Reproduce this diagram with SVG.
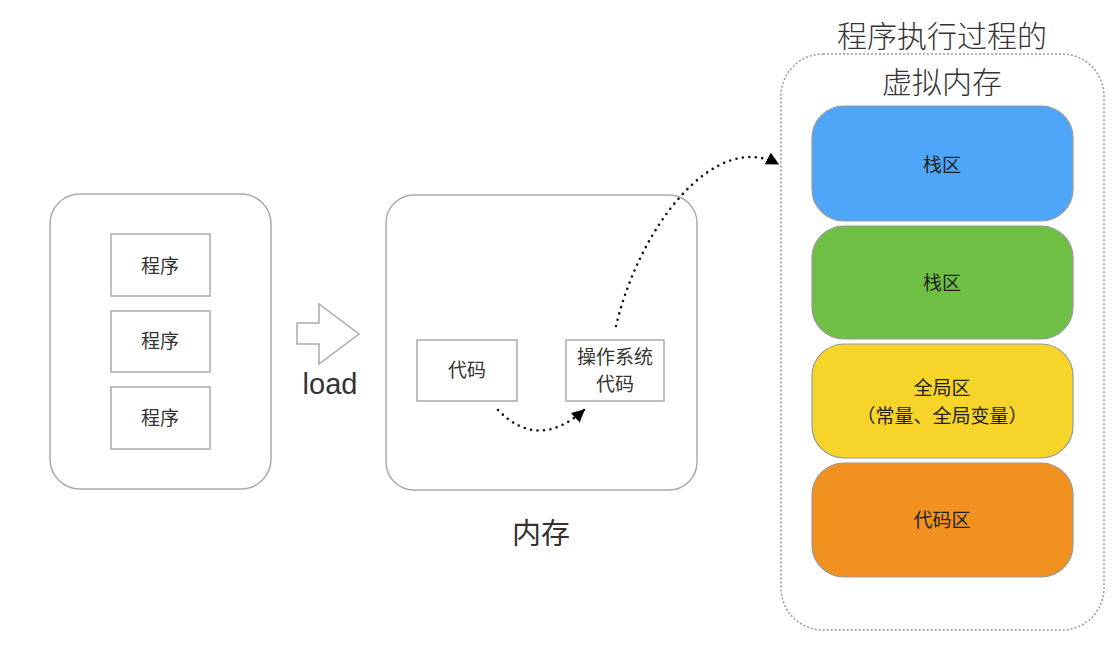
<svg xmlns="http://www.w3.org/2000/svg" width="1114" height="651" viewBox="0 0 1114 651">
<defs>
<style>
.cjk{font-family:"Noto Sans CJK SC","Noto Sans",sans-serif;fill:#333;text-anchor:middle}
.box{fill:#fff;stroke:#aaa;stroke-width:1.5}
.cont{fill:#fff;stroke:#aaa;stroke-width:1.5}
.seg{stroke:#999;stroke-width:1.2}
.dot{fill:none;stroke:#111;stroke-width:2.6;stroke-linecap:round;stroke-dasharray:0 6.5}
</style>
<marker id="ah" viewBox="0 0 10 10" refX="9" refY="5" markerWidth="13" markerHeight="13" markerUnits="userSpaceOnUse" orient="auto">
<path d="M0,0 L10,5 L0,10 Z" fill="#000"/>
</marker>
</defs>
<rect width="1114" height="651" fill="#fff"/>

<g id="programs">
<rect class="cont" x="50" y="194" width="221" height="295" rx="30"/>
<g id="prog1"><rect class="box" x="111" y="234" width="99" height="62"/><text class="cjk" x="160" y="273" font-size="19">程序</text></g>
<g id="prog2"><rect class="box" x="111" y="311" width="99" height="61"/><text class="cjk" x="160" y="348" font-size="19">程序</text></g>
<g id="prog3"><rect class="box" x="111" y="387" width="99" height="62"/><text class="cjk" x="160" y="425" font-size="19">程序</text></g>
</g>

<g id="load-arrow">
<polygon points="297,323 319,323 319,304 359,334 319,364 319,344 297,344" fill="#fff" stroke="#aaa" stroke-width="1.5"/>
<text x="330" y="394" font-family="Liberation Sans, Arial, sans-serif" font-size="29" fill="#333" text-anchor="middle">load</text>
</g>

<g id="memory">
<rect class="cont" x="386" y="195" width="311" height="295" rx="28"/>
<text class="cjk" x="541" y="544" font-size="29">内存</text>
</g>
<g id="code"><rect class="box" x="417" y="340" width="100" height="61"/><text class="cjk" x="467" y="377" font-size="19">代码</text></g>
<g id="oscode"><rect class="box" x="566" y="340" width="98" height="61"/><text class="cjk" x="615" y="364" font-size="19">操作系统</text><text class="cjk" x="615" y="391" font-size="19">代码</text></g>

<g id="vmem">
<rect x="781" y="54" width="323" height="576" rx="42" fill="none" stroke="#999" stroke-width="1.5" stroke-dasharray="2 2"/>
<text class="cjk" x="942" y="47" font-size="30" font-weight="300">程序执行过程的</text>
<text class="cjk" x="942" y="93" font-size="30" font-weight="300">虚拟内存</text>
</g>
<g id="stack1"><rect class="seg" x="812" y="106" width="261" height="115" rx="32" fill="#4FA5F8"/><text class="cjk" x="942" y="172" font-size="19" style="fill:#222">栈区</text></g>
<g id="stack2"><rect class="seg" x="812" y="226" width="261" height="113" rx="32" fill="#6EBF43"/><text class="cjk" x="942" y="290" font-size="19" style="fill:#222">栈区</text></g>
<g id="global"><rect class="seg" x="812" y="344" width="261" height="114" rx="32" fill="#F6D42A"/><text class="cjk" x="942" y="395" font-size="19" style="fill:#222">全局区</text><text class="cjk" x="942" y="423" font-size="19" style="fill:#222">（常量、全局变量）</text></g>
<g id="codeseg"><rect class="seg" x="812" y="463" width="261" height="114" rx="32" fill="#F19220"/><text class="cjk" x="942" y="527" font-size="19" style="fill:#222">代码区</text></g>

<g id="connectors">
<path class="dot" d="M498,410 Q538,451 584,410" marker-end="url(#ah)"/>
<path class="dot" d="M616,326 C640,225 715,130 778,164" marker-end="url(#ah)"/>
</g>
</svg>
